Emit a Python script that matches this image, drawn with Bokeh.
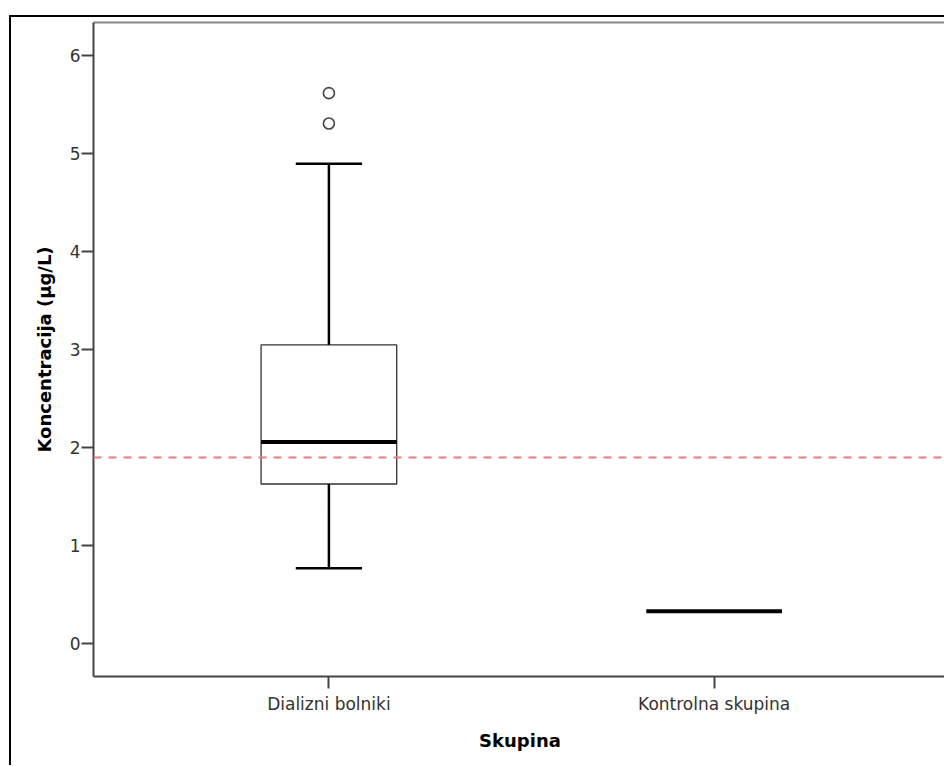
from bokeh.plotting import figure
from bokeh.models import Span, FixedTicker, LinearAxis, Range1d
from bokeh.embed import file_html
from bokeh.resources import INLINE

# ---- data ----
groups = ["Dializni bolniki", "Kontrolna skupina"]
q1_values = [1.63, 0.33]
median_values = [2.06, 0.33]
q3_values = [3.05, 0.33]
lower_whisker = [0.77, 0.33]
upper_whisker = [4.90, 0.33]
outlier_groups = ["Dializni bolniki", "Dializni bolniki"]
outlier_values = [5.62, 5.31]
reference_level = 1.90
y_ticks = [0, 1, 2, 3, 4, 5, 6]

FONT = "DejaVu Sans"

xpos = [i + 1 for i in range(len(groups))]
box_half = 0.176
cap_half = 0.086

p = figure(width=933, height=748, output_backend="svg", toolbar_location=None,
           x_range=Range1d(0.389, 2.603), y_range=Range1d(-0.335, 6.341),
           min_border_left=82, min_border_top=5, min_border_bottom=91, min_border_right=0)
p.styles = {"border-left": "2px solid black", "border-top": "2px solid black",
            "margin-left": "9px", "margin-top": "15px", "box-sizing": "content-box",
            "overflow": "hidden"}
p.outline_line_color = None
p.xgrid.visible = False
p.ygrid.visible = False
p.background_fill_color = "white"
p.border_fill_color = "white"

# boxes
left = [x - box_half for x in xpos]
right = [x + box_half for x in xpos]
p.quad(left=left, right=right, bottom=q1_values, top=q3_values,
       fill_color="white", line_color="#333333", line_width=1.3)
# whiskers
p.segment(x0=xpos, y0=q3_values, x1=xpos, y1=upper_whisker, line_color="black", line_width=2.5)
p.segment(x0=xpos, y0=q1_values, x1=xpos, y1=lower_whisker, line_color="black", line_width=2.5)
# caps
p.segment(x0=[x - cap_half for x in xpos], y0=upper_whisker,
          x1=[x + cap_half for x in xpos], y1=upper_whisker, line_color="black", line_width=2.5)
p.segment(x0=[x - cap_half for x in xpos], y0=lower_whisker,
          x1=[x + cap_half for x in xpos], y1=lower_whisker, line_color="black", line_width=2.5)
# medians
p.segment(x0=left, y0=median_values, x1=right, y1=median_values, line_color="black", line_width=4)
# outliers
ox = [groups.index(g) + 1 for g in outlier_groups]
p.scatter(x=ox, y=outlier_values, marker="circle", size=11, fill_color="white",
          line_color="#444444", line_width=1.6)

# reference line
p.add_layout(Span(location=reference_level, dimension="width", line_color="#F07B7B",
                  line_width=2, line_dash="8 7"))

# axes
for ax in (p.xaxis[0], p.yaxis[0]):
    ax.axis_line_color = "#444444"
    ax.axis_line_width = 2
    ax.major_tick_line_color = "#444444"
    ax.major_tick_line_width = 2
    ax.major_tick_in = 0
    ax.major_tick_out = 12
    ax.minor_tick_line_color = None
    ax.major_label_text_font = FONT
    ax.major_label_text_font_size = "17px"
    ax.major_label_text_color = "#333333"
    ax.axis_label_text_font = FONT
    ax.axis_label_text_font_size = "18px"
    ax.axis_label_text_font_style = "bold"
    ax.axis_label_text_color = "black"

p.xaxis.ticker = FixedTicker(ticks=xpos)
p.xaxis.major_label_overrides = {x: g for x, g in zip(xpos, groups)}
p.xaxis.axis_label = "Skupina"
p.xaxis.major_label_standoff = 5
p.xaxis.axis_label_standoff = 13

p.yaxis.ticker = FixedTicker(ticks=y_ticks)
p.yaxis.axis_label = "Koncentracija (µg/L)"
p.yaxis.major_label_standoff = 1
p.yaxis.axis_label_standoff = 12

top_axis = LinearAxis(ticker=FixedTicker(ticks=[]), axis_line_color="#888888", axis_line_width=2,
                      major_tick_out=0, major_tick_in=0, minor_tick_out=0, minor_tick_in=0,
                      major_label_text_font_size="0px")
p.add_layout(top_axis, "above")

open("out.html", "w").write(file_html(p, INLINE))
